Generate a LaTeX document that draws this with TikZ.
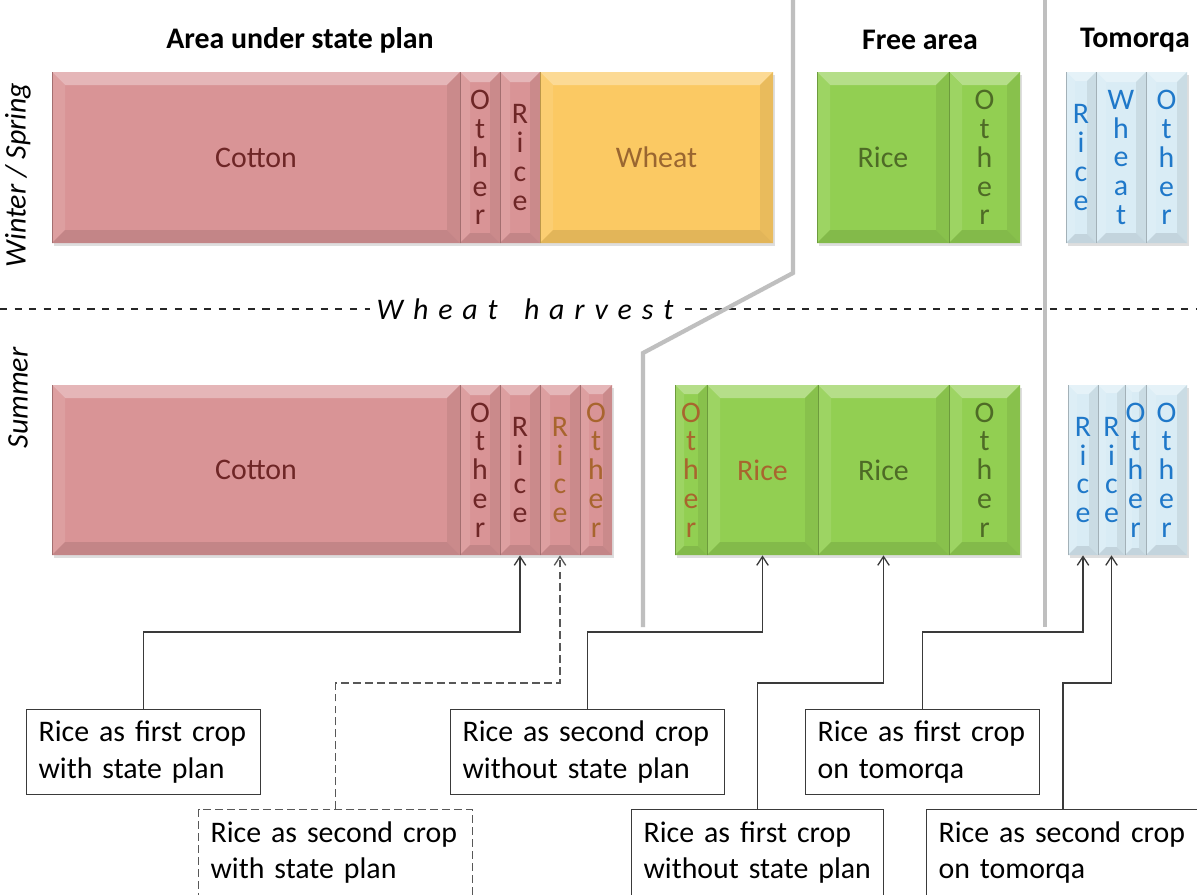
\documentclass[tikz,border=0pt]{standalone}
\usepackage{fontspec}
\setmainfont{Carlito}
\usetikzlibrary{arrows.meta,fit}
\definecolor{pinkF}{HTML}{D99496}
\definecolor{pinkT}{HTML}{6E2626}
\definecolor{brownT}{HTML}{A8652E}
\definecolor{wheatF}{HTML}{FBC963}
\definecolor{wheatT}{HTML}{9A6630}
\definecolor{greenF}{HTML}{92CF52}
\definecolor{greenT}{HTML}{4E6B26}
\definecolor{blueF}{HTML}{D9ECF5}
\definecolor{blueT}{HTML}{1F78C9}
\definecolor{sepgray}{HTML}{BFBFBF}
\definecolor{lnk}{HTML}{3A3A3A}
\newcommand\lsp{\kern5.6pt}
% name, x1, y1, x2, y2, colour, bevel
\newcommand\bev[7]{%
  \fill[black,opacity=0.13] (#2+2,#3+3) rectangle (#4+2,#5+3);
  \fill[#6] (#2,#3) rectangle (#4,#5);
  \fill[#6!68!white] (#2,#3) -- (#4,#3) -- (#4-#7,#3+#7) -- (#2+#7,#3+#7) -- cycle;
  \fill[#6!90!white] (#2,#3) -- (#2+#7,#3+#7) -- (#2+#7,#5-#7) -- (#2,#5) -- cycle;
  \fill[#6!93!black] (#4,#3) -- (#4-#7,#3+#7) -- (#4-#7,#5-#7) -- (#4,#5) -- cycle;
  \fill[#6!90!black] (#2,#5) -- (#2+#7,#5-#7) -- (#4-#7,#5-#7) -- (#4,#5) -- cycle;
  \draw[#6!75!black,line width=0.4pt] (#2,#3) -- (#2,#5);
  \node[fit={(#2,#3)(#4,#5)},inner sep=0pt] (#1) {};
}
\tikzset{
  bt/.style={align=center,inner sep=0pt,font=\fontsize{17}{16.4}\selectfont},
  hd/.style={font=\fontsize{17}{20}\selectfont\bfseries},
  side/.style={font=\fontsize{17}{20}\selectfont\itshape,rotate=90},
  lbl/.style={draw=lnk,line width=0.75pt,fill=white,align=left,inner xsep=6.8pt,
    inner ysep=0pt,minimum height=48.2pt,font=\fontsize{17}{21}\selectfont,anchor=north west},
  conn/.style={draw=lnk,line width=0.75pt,-{Straight Barb[length=5pt,width=6.5pt]}},
  dsh/.style={dash pattern=on 4.5pt off 2.3pt,draw=lnk!85!white},
  gl/.style={draw=sepgray,line width=2.4pt}
}
\begin{document}
\begin{tikzpicture}[x=0.02cm,y=-0.02cm]
\useasboundingbox (0,0) rectangle (1197,894);
\clip (0,0) rectangle (1197,894);
\fill[white] (0,0) rectangle (1197,894);

% headings
\node[hd] (h1) at (300,40) {Area under state plan};
\node[hd] (h2) at (920,40) {Free area};
\node[hd] (h3) at (1135,40) {Tomorqa};
\node[side] (s1) at (18,175) {Winter / Spring};
\node[side] (s2) at (18,398) {Summer};

% winter / spring row
\bev{cot1}{52}{72}{460}{243}{pinkF}{13}
\node[bt,text=pinkT] (cot1t) at (cot1) {Cotton};
\bev{oth1}{460}{72}{500}{243}{pinkF}{10}
\node[bt,text=pinkT] (oth1t) at (oth1) {O\\t\\h\\e\\r};
\bev{ric1}{500}{72}{540}{243}{pinkF}{10}
\node[bt,text=pinkT] (ric1t) at (ric1) {R\\i\\c\\e};
\bev{whe1}{540}{72}{773}{243}{wheatF}{13}
\node[bt,text=wheatT] (whe1t) at (whe1) {Wheat};
\bev{fr1}{817}{72}{949}{243}{greenF}{13}
\node[bt,text=greenT] (fr1t) at (fr1) {Rice};
\bev{fo1}{949}{72}{1020}{243}{greenF}{13}
\node[bt,text=greenT] (fo1t) at (fo1) {O\\t\\h\\e\\r};
\bev{tr1}{1066}{72}{1096}{243}{blueF}{9}
\node[bt,text=blueT] (tr1t) at (tr1) {R\\i\\c\\e};
\bev{tw1}{1096}{72}{1146}{243}{blueF}{10}
\node[bt,text=blueT] (tw1t) at (tw1) {W\\h\\e\\a\\t};
\bev{to1}{1146}{72}{1187}{243}{blueF}{10}
\node[bt,text=blueT] (to1t) at (to1) {O\\t\\h\\e\\r};

% summer row
\bev{cot2}{52}{385}{460}{555}{pinkF}{13}
\node[bt,text=pinkT] (cot2t) at (cot2) {Cotton};
\bev{oth2}{460}{385}{500}{555}{pinkF}{10}
\node[bt,text=pinkT] (oth2t) at (oth2) {O\\t\\h\\e\\r};
\bev{ric2}{500}{385}{540}{555}{pinkF}{10}
\node[bt,text=pinkT] (ric2t) at (ric2) {R\\i\\c\\e};
\bev{ric3}{540}{385}{580}{555}{pinkF}{10}
\node[bt,text=brownT] (ric3t) at (ric3) {R\\i\\c\\e};
\bev{oth3}{580}{385}{612}{555}{pinkF}{9}
\node[bt,text=brownT] (oth3t) at (oth3) {O\\t\\h\\e\\r};
\bev{go2}{675}{385}{707}{555}{greenF}{9}
\node[bt,text=brownT] (go2t) at (go2) {O\\t\\h\\e\\r};
\bev{gr2}{707}{385}{818}{555}{greenF}{13}
\node[bt,text=brownT] (gr2t) at (gr2) {Rice};
\bev{gr3}{818}{385}{949}{555}{greenF}{13}
\node[bt,text=greenT] (gr3t) at (gr3) {Rice};
\bev{go3}{949}{385}{1020}{555}{greenF}{13}
\node[bt,text=greenT] (go3t) at (go3) {O\\t\\h\\e\\r};
\bev{br2}{1068}{385}{1098}{555}{blueF}{9}
\node[bt,text=blueT] (br2t) at (br2) {R\\i\\c\\e};
\bev{br3}{1098}{385}{1125}{555}{blueF}{8}
\node[bt,text=blueT] (br3t) at (br3) {R\\i\\c\\e};
\bev{bo2}{1125}{385}{1146}{555}{blueF}{7}
\node[bt,text=blueT] (bo2t) at (bo2) {O\\t\\h\\e\\r};
\bev{bo3}{1146}{385}{1187}{555}{blueF}{10}
\node[bt,text=blueT] (bo3t) at (bo3) {O\\t\\h\\e\\r};

% wheat harvest divider
\draw[line width=1pt,draw=black!85,dash pattern=on 4pt off 4.3pt] (0,309) -- (1197,309);
\node[fill=white,inner xsep=4pt,inner ysep=1pt,font=\fontsize{17}{20}\selectfont\itshape] (wh) at (525,309)
  {W\lsp h\lsp e\lsp a\lsp t\lsp\ \lsp h\lsp a\lsp r\lsp v\lsp e\lsp s\lsp t};

% grey separators
\draw[gl] (793,0) -- (793,273) -- (643,353) -- (643,627);
\draw[gl] (1045,0) -- (1045,627);

% hinge levels
\coordinate (hA) at (0,632);
\coordinate (hB) at (0,683);

% labels
\node[lbl,text width=119.6pt] (lb1) at (26,709) {\mbox{Rice as first crop}\\\mbox{with state plan}};
\node[lbl,dsh,text width=142.3pt,minimum height=48.8pt] (lb2) at (198,809) {\mbox{Rice as second crop}\\\mbox{with state plan}};
\node[lbl,text width=142.3pt] (lb3) at (450,709) {\mbox{Rice as second crop}\\\mbox{without state plan}};
\node[lbl,text width=129.8pt,minimum height=48.8pt] (lb4) at (631,809) {\mbox{Rice as first crop}\\\mbox{without state plan}};
\node[lbl,text width=119.6pt] (lb5) at (805,709) {\mbox{Rice as first crop}\\\mbox{on tomorqa}};
\node[lbl,text width=141.7pt,minimum height=48.8pt] (lb6) at (926,809) {\mbox{Rice as second crop}\\\mbox{on tomorqa}};

% connectors
\draw[conn] (lb1.north) |- (ric2.south |- hA) -- (ric2.south);
\draw[conn,dsh] (lb2.north) |- (ric3.south |- hB) -- (ric3.south);
\draw[conn] (lb3.north) |- (gr2.south |- hA) -- (gr2.south);
\draw[conn] (lb4.north) |- (gr3.south |- hB) -- (gr3.south);
\draw[conn] (lb5.north) |- (br2.south |- hA) -- (br2.south);
\draw[conn] (lb6.north) |- (br3.south |- hB) -- (br3.south);
\end{tikzpicture}
\end{document}
